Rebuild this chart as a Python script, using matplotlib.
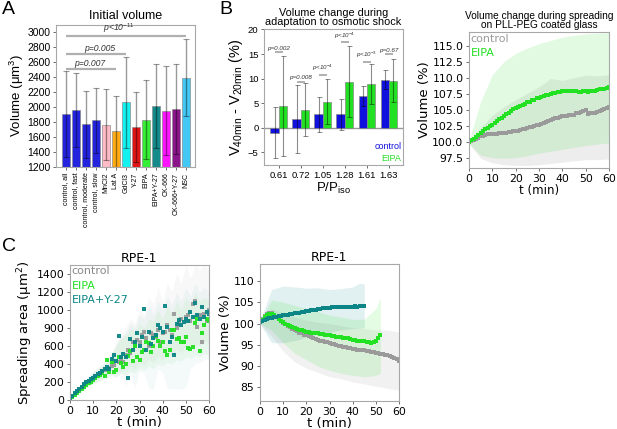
import numpy as np
import matplotlib
matplotlib.use("Agg")
import matplotlib.pyplot as plt

plt.rcParams["mathtext.rm"] = "Liberation Sans"
plt.rcParams["mathtext.it"] = "Liberation Sans:italic"
plt.rcParams["mathtext.bf"] = "Liberation Sans:bold"

# ---------------- DATA ----------------
# Panel A
a_labels = ["control, all", "control, fast", "control, moderate", "control, slow", "MnCl2", "Lat A",
            "GdCl3", "Y-27", "EIPA", "EIPA+Y-27", "CK-666", "CK-666+Y-27", "NSC"]
a_values = [1906, 1959, 1772, 1825, 1768, 1678, 2066, 1736, 1835, 2017, 1955, 1977, 2397]
a_errors = [575, 496, 451, 433, 472, 473, 607, 474, 526, 558, 593, 598, 513]
a_colors = ["#1111dd", "#1111dd", "#1111dd", "#1111dd", "#ffb6c1", "#ffa500", "#00f0f0", "#dd0000",
            "#22ee22", "#008080", "#ff00ff", "#800080", "#33c4f5"]
a_sig_pairs = [(0, 12), (0, 6), (0, 5)]
a_sig_y = [2950, 2718, 2517]
a_sig_text = ["p<10$^{\\mathrm{-11}}$", "p=0.005", "p=0.007"]
a_sig_textx = [5.3, 3.4, 2.4]

# Panel B
b_labels = ["0.61", "0.72", "1.05", "1.28", "1.61", "1.63"]
b_control = [-1.0, 1.8, 2.7, 2.7, 6.4, 9.8]
b_control_err = [5.2, 6.9, 3.5, 3.1, 2.0, 2.0]
b_eipa = [4.4, 3.7, 5.3, 9.4, 8.9, 9.6]
b_eipa_err = [10.2, 5.4, 4.6, 7.3, 4.0, 4.3]
b_sig_y = [15.4, 9.4, 10.8, 17.4, 13.4, 15.0]
b_sig_text = ["p=0.002", "p=0.008", "p<10$^{\\mathrm{-4}}$", "p<10$^{\\mathrm{-4}}$", "p<10$^{\\mathrm{-3}}$",
              "p=0.67"]

# Panel PLL-PEG volume
pll_t = list(range(61))
pll_control = [100.0, 100.2, 100.4, 100.5, 100.7, 100.9, 101.0, 101.1, 101.2, 101.2, 101.3, 101.3, 101.3,
               101.4, 101.4, 101.5, 101.5, 101.6, 101.6, 101.7, 101.8, 101.8, 101.9, 102.0, 102.1, 102.2,
               102.3, 102.4, 102.5, 102.6, 102.7, 102.9, 103.0, 103.2, 103.3, 103.5, 103.6, 103.7, 103.8,
               103.9, 104.0, 104.1, 104.1, 104.2, 104.3, 104.3, 104.5, 104.6, 104.7, 104.8, 105.0, 104.4,
               104.5, 104.6, 104.6, 104.7, 104.8, 105.0, 105.1, 105.3, 105.4]
pll_eipa = [100.1, 100.3, 100.5, 100.8, 101.1, 101.4, 101.7, 102.0, 102.2, 102.5, 102.7, 103.0, 103.3,
            103.6, 103.8, 104.1, 104.4, 104.6, 104.8, 105.1, 105.3, 105.5, 105.6, 105.8, 106.0, 106.2,
            106.3, 106.5, 106.6, 106.8, 106.9, 107.0, 107.2, 107.3, 107.4, 107.5, 107.6, 107.7, 107.8,
            107.8, 107.9, 107.9, 108.0, 108.0, 108.0, 107.9, 107.9, 107.8, 107.8, 107.9, 107.9, 107.8,
            107.9, 108.0, 108.0, 108.1, 108.2, 108.3, 108.3, 108.4, 108.5]
pll_band_t = [0, 5, 10, 15, 20, 25, 30, 35, 40, 45, 50, 55, 60]
pll_eipa_hi = [100.2, 106.3, 110.5, 112.5, 113.8, 114.6, 115.3, 115.8, 116.3, 116.6, 116.8, 116.9, 117.0]
pll_eipa_lo = [99.8, 98.0, 97.6, 97.5, 97.6, 97.9, 98.3, 98.6, 98.9, 99.2, 99.5, 99.7, 99.9]
pll_ctrl_hi = [100.2, 102.3, 104.2, 105.5, 106.6, 107.6, 108.6, 109.9, 109.6, 110.0, 110.4, 110.3, 110.5]
pll_ctrl_lo = [99.8, 97.5, 96.8, 96.5, 96.4, 96.4, 96.5, 96.7, 96.9, 97.1, 97.3, 97.3, 97.4]

# Panel C left: spreading area
c_t = list(range(61))
c_area_control = [15, 40, 65, 90, 115, 140, 160, 185, 205, 220, 240, 260, 280, 300, 320, 330, 350, 360, 380,
                  390, 430, 420, 460, 420, 500, 560, 520, 650, 600, 670, 640, 720, 760, 690, 600, 750, 720,
                  700, 780, 640, 740, 760, 830, 780, 720, 960, 800, 860, 900, 650, 920, 940, 880, 1070, 1100,
                  810, 940, 640, 960, 880, 1000]
c_area_eipa = [10, 35, 55, 80, 105, 125, 150, 170, 190, 205, 225, 245, 265, 280, 300, 270, 440, 310, 420,
               310, 330, 480, 415, 370, 400, 490, 550, 430, 600, 480, 440, 530, 560, 650, 630, 530, 600, 710,
               660, 600, 640, 550, 500, 560, 780, 780, 680, 690, 640, 650, 700, 580, 570, 590, 860, 900, 540,
               740, 830, 900, 880]
c_area_eipay = [20, 50, 75, 100, 125, 150, 175, 195, 215, 235, 250, 270, 290, 300, 320, 340, 370, 340, 460,
                500, 430, 710, 480, 515, 480, 250, 680, 560, 650, 740, 600, 700, 1010, 560, 760, 620, 690,
                720, 830, 800, 760, 1040, 810, 650, 700, 500, 850, 890, 830, 870, 900, 880, 980, 920, 1080,
                950, 900, 1030, 920, 980, 960]
c_band_t = list(range(0, 61, 2))
c_ctrl_hi = [20, 90, 150, 210, 260, 310, 350, 390, 430, 520, 620, 720, 800, 900, 850, 1000, 950, 1150, 1050,
             1250, 1100, 1300, 1200, 1400, 1300, 1500, 1350, 1500, 1450, 1500, 1450]
c_ctrl_lo = [0, 40, 90, 120, 160, 190, 220, 250, 280, 300, 280, 320, 330, 380, 350, 420, 380, 450, 420, 480,
             450, 520, 500, 560, 520, 600, 560, 620, 600, 650, 640]
c_eipa_hi = [15, 80, 140, 200, 250, 300, 340, 380, 420, 500, 600, 680, 720, 800, 760, 850, 800, 900, 880,
             1000, 900, 1050, 950, 1100, 1000, 1150, 1050, 1200, 1100, 1150, 1100]
c_eipa_lo = [0, 30, 80, 110, 150, 180, 210, 240, 260, 280, 260, 300, 280, 320, 300, 360, 330, 380, 350, 400,
             380, 420, 400, 450, 430, 480, 460, 500, 480, 520, 500]
c_eipay_hi = [20, 100, 160, 220, 270, 320, 360, 400, 450, 520, 650, 700, 750, 850, 800, 950, 900, 1050, 950,
              1100, 1000, 1150, 1050, 1200, 1100, 1250, 1150, 1300, 1200, 1250, 1200]
c_eipay_lo = [0, 40, 80, 120, 150, 180, 200, 220, 240, 260, 250, 300, 150, 300, 130, 320, 300, 130, 120, 350,
              300, 120, 130, 130, 120, 140, 350, 400, 420, 450, 450]
c_ticks = [0, 200, 400, 600, 800, 1000, 1200, 1400]
c_ticklabels = ["0", "200", "400", "600", "900", "1000", "1200", "1400"]

# Panel C right: volume
v_t_ctrl = list(range(61))
v_control = [100.3, 101.0, 101.7, 102.2, 102.5, 102.4, 102.0, 101.5, 101.0, 100.5, 100.1, 99.8, 99.4, 99.1,
             98.8, 98.5, 98.2, 97.9, 97.7, 97.4, 97.2, 97.0, 96.8, 96.6, 96.4, 96.2, 96.0, 95.9, 95.7, 95.6,
             95.4, 95.3, 95.1, 95.0, 94.8, 94.7, 94.6, 94.4, 94.3, 94.2, 94.0, 94.0, 93.9, 93.8, 93.7, 93.7,
             93.6, 93.5, 93.3, 93.2, 93.1, 93.0, 92.9, 92.8, 92.7, 92.6, 92.4, 92.2, 91.9, 91.6, 91.3]
v_t_eipa = list(range(53))
v_eipa = [100.3, 100.9, 101.6, 102.0, 102.3, 102.2, 101.9, 101.5, 101.1, 100.7, 100.3, 100.0, 99.7, 99.4,
          99.2, 99.0, 98.8, 98.6, 98.4, 98.2, 98.1, 98.0, 97.9, 97.8, 97.8, 97.7, 97.6, 97.5, 97.4, 97.3,
          97.2, 97.1, 97.0, 96.9, 96.9, 96.8, 96.7, 96.6, 96.5, 96.4, 96.2, 96.1, 96.0, 96.0, 95.9, 95.9,
          95.7, 95.6, 95.5, 95.7, 96.0, 96.6, 97.2]
v_t_eipay = list(range(46))
v_eipay = [100.3, 100.5, 100.8, 101.0, 101.2, 101.3, 101.5, 101.6, 101.7, 101.8, 101.9, 102.0, 102.1, 102.2,
           102.3, 102.4, 102.5, 102.6, 102.7, 102.8, 102.9, 103.0, 103.1, 103.2, 103.3, 103.4, 103.5, 103.6,
           103.6, 103.7, 103.7, 103.8, 103.9, 103.9, 104.0, 103.9, 103.9, 104.0, 104.0, 104.0, 104.0, 104.1,
           104.0, 104.1, 104.2, 104.2]
vb_t_ctrl = [0, 5, 10, 15, 20, 25, 30, 35, 40, 45, 50, 55, 60]
vb_ctrl_hi = [100.5, 103.5, 102.5, 101.5, 100.8, 100.3, 100.0, 99.5, 99.0, 98.8, 98.5, 98.5, 98.0]
vb_ctrl_lo = [100.0, 97.0, 93.5, 91.0, 89.5, 88.5, 87.5, 87.0, 86.3, 85.8, 85.3, 84.8, 84.3]
vb_t_eipa = [0, 5, 10, 15, 20, 25, 30, 35, 40, 45, 50, 52]
vb_eipa_hi = [100.5, 105.5, 105.0, 104.3, 103.5, 102.8, 102.0, 101.5, 101.0, 101.0, 103.5, 106.0]
vb_eipa_lo = [100.0, 98.5, 95.5, 93.0, 91.5, 90.0, 89.0, 88.3, 87.8, 87.5, 87.8, 88.3]
vb_t_eipay = [0, 5, 10, 15, 20, 25, 30, 35, 40, 43, 45]
vb_eipay_hi = [100.5, 108.0, 108.8, 108.6, 108.3, 108.4, 108.0, 108.2, 108.6, 109.5, 109.3]
vb_eipay_lo = [100.0, 95.5, 95.5, 96.0, 96.8, 97.5, 98.0, 98.5, 98.8, 98.9, 99.0]

# ---------------- STYLE ----------------
GREY = "#9a9a9a"
GREEN = "#22e022"
TEAL = "#0b8585"
BLUE = "#1111dd"
SPINE = "#a8a8a8"
ARIAL = "Liberation Sans"

W, H = 617, 429
fig = plt.figure(figsize=(W / 100, H / 100), dpi=100)


def ax_px(l, t, r, b):
    return fig.add_axes([l / W, 1 - b / H, (r - l) / W, (b - t) / H])


def style_spines(ax):
    for s in ax.spines.values():
        s.set_color(SPINE)
        s.set_linewidth(0.8)
    ax.tick_params(color="#555555", width=0.6, length=2.5, pad=1.5)


# ---------------- Panel A ----------------
axA = ax_px(56, 25, 195, 167)
xa = np.arange(len(a_values))
axA.bar(xa, np.array(a_values) - 1200, bottom=1200, width=0.8, color=a_colors, alpha=0.92,
        edgecolor="#888888", linewidth=0.5)
axA.errorbar(xa, a_values, yerr=a_errors, fmt="none", ecolor="k", alpha=0.4, elinewidth=1.0, capsize=2,
             capthick=0.8)
for (i0, i1), yy, txt, tx in zip(a_sig_pairs, a_sig_y, a_sig_text, a_sig_textx):
    axA.plot([i0, i1], [yy, yy], color="#b0b0b0", lw=1.6, solid_capstyle="butt")
    axA.text(tx, yy + 12, txt, ha="center", va="bottom", fontsize=6.2, style="italic", family=ARIAL,
             color="#333333", math_fontfamily="custom")
axA.set_xlim(-0.95, 12.9)
axA.set_ylim(1200, 3100)
axA.set_yticks(range(1200, 3001, 200))
axA.set_xticks(xa)
axA.set_xticklabels(a_labels, rotation=90, fontsize=5, family=ARIAL)
for lab in axA.get_yticklabels():
    lab.set_fontsize(7.5)
    lab.set_family(ARIAL)
axA.set_ylabel("Volume (μm$^{\\mathrm{3}}$)", fontsize=9.5, family=ARIAL, labelpad=1,
               math_fontfamily="custom")
axA.set_title("Initial volume", fontsize=9, family=ARIAL, pad=4)
style_spines(axA)

# ---------------- Panel B ----------------
axB = ax_px(264, 29, 403, 165)
xb = np.arange(len(b_labels))
bw = 0.38
axB.axhline(0, color="#999999", lw=1.0, zorder=0)
axB.bar(xb - bw / 2, b_control, width=bw, color=BLUE, edgecolor="#888888", linewidth=0.5)
axB.bar(xb + bw / 2, b_eipa, width=bw, color=GREEN, edgecolor="#888888", linewidth=0.5)
axB.errorbar(xb - bw / 2, b_control, yerr=b_control_err, fmt="none", ecolor="k", alpha=0.45,
             elinewidth=0.8, capsize=1.8, capthick=0.7)
axB.errorbar(xb + bw / 2, b_eipa, yerr=b_eipa_err, fmt="none", ecolor="k", alpha=0.45,
             elinewidth=0.8, capsize=1.8, capthick=0.7)
for i, (yy, txt) in enumerate(zip(b_sig_y, b_sig_text)):
    axB.plot([i - bw / 2, i + bw / 2], [yy, yy], color="#b0b0b0", lw=1.4, solid_capstyle="butt")
    axB.text(i, yy + 0.3, txt, ha="center", va="bottom", fontsize=4.5, style="italic", family=ARIAL,
             color="#333333", math_fontfamily="custom")
axB.set_xlim(-0.67, 5.64)
axB.set_ylim(-7.6, 20.1)
axB.set_yticks([-5, 0, 5, 10, 15, 20])
axB.set_xticks(xb)
axB.set_xticklabels(b_labels, fontsize=6.8, family=ARIAL)
for lab in axB.get_yticklabels():
    lab.set_fontsize(6.8)
    lab.set_family(ARIAL)
axB.set_ylabel("V$_{\\mathrm{40min}}$ - V$_{\\mathrm{20min}}$ (%)", fontsize=10.5, family=ARIAL, labelpad=2,
               math_fontfamily="custom")
axB.set_xlabel("P/P$_{\\mathrm{iso}}$", fontsize=9.5, family=ARIAL, labelpad=1, math_fontfamily="custom")
axB.set_title("Volume change during\nadaptation to osmotic shock", fontsize=7.8, family=ARIAL,
              linespacing=0.9, pad=3)
axB.text(0.99, 0.10, "control", transform=axB.transAxes, color=BLUE, fontsize=6.5, family=ARIAL,
         ha="right", va="bottom")
axB.text(0.99, 0.015, "EIPA", transform=axB.transAxes, color=GREEN, fontsize=6.5, family=ARIAL,
         ha="right", va="bottom")
style_spines(axB)

# ---------------- Panel PLL-PEG ----------------
axP = ax_px(469, 32, 609, 168)
axP.fill_between(pll_band_t, pll_ctrl_lo, pll_ctrl_hi, color="#bbbbbb", alpha=0.25, lw=0)
axP.fill_between(pll_band_t, pll_eipa_lo, pll_eipa_hi, color=GREEN, alpha=0.13, lw=0)
axP.plot(pll_t, pll_control, "s", color=GREY, ms=2.6, mew=0)
axP.plot(pll_t, pll_eipa, "s", color=GREEN, ms=3.0, mew=0)
axP.set_xlim(0, 60)
axP.set_ylim(96.0, 117.1)
axP.set_yticks(np.arange(97.5, 115.1, 2.5))
axP.set_yticklabels([f"{v:.1f}" for v in np.arange(97.5, 115.1, 2.5)])
axP.set_xticks(range(0, 61, 10))
axP.tick_params(labelsize=7.8)
axP.set_ylabel("Volume (%)", fontsize=9.5, labelpad=1)
axP.set_xlabel("t (min)", fontsize=8.5, labelpad=0)
axP.set_title("Volume change during spreading\non PLL-PEG coated glass", fontsize=7.3, family=ARIAL,
              linespacing=0.9, pad=3)
axP.text(0.01, 0.985, "control", transform=axP.transAxes, color=GREY, fontsize=8, va="top")
axP.text(0.01, 0.885, "EIPA", transform=axP.transAxes, color=GREEN, fontsize=8, va="top")
style_spines(axP)

# ---------------- Panel C left ----------------
axC = ax_px(70, 265, 209, 400)
axC.fill_between(c_band_t, c_ctrl_lo, c_ctrl_hi, color="#bbbbbb", alpha=0.10, lw=0)
axC.fill_between(c_band_t, c_eipa_lo, c_eipa_hi, color=GREEN, alpha=0.06, lw=0)
axC.fill_between(c_band_t, c_eipay_lo, c_eipay_hi, color=TEAL, alpha=0.045, lw=0)
axC.plot(c_t, c_area_control, "s", color=GREY, ms=3.3, mew=0, alpha=0.95)
axC.plot(c_t, c_area_eipa, "s", color=GREEN, ms=3.3, mew=0, alpha=0.95)
axC.plot(c_t, c_area_eipay, "s", color=TEAL, ms=3.3, mew=0, alpha=0.95)
axC.set_xlim(0, 60)
axC.set_ylim(0, 1500)
axC.set_yticks(c_ticks)
axC.set_yticklabels(c_ticklabels)
axC.set_xticks(range(0, 61, 10))
axC.tick_params(labelsize=7.8)
axC.set_ylabel("Spreading area (μm$^2$)", fontsize=9.5, labelpad=1)
axC.set_xlabel("t (min)", fontsize=9.5, labelpad=0)
axC.set_title("RPE-1", fontsize=9, pad=2)
axC.text(0.01, 0.99, "control", transform=axC.transAxes, color="#888888", fontsize=8, va="top")
axC.text(0.01, 0.885, "EIPA", transform=axC.transAxes, color=GREEN, fontsize=8, va="top")
axC.text(0.01, 0.78, "EIPA+Y-27", transform=axC.transAxes, color=TEAL, fontsize=8, va="top")
style_spines(axC)

# ---------------- Panel C right ----------------
axV = ax_px(260, 264, 399, 401)
axV.fill_between(vb_t_ctrl, vb_ctrl_lo, vb_ctrl_hi, color="#bbbbbb", alpha=0.2, lw=0)
axV.fill_between(vb_t_eipay, vb_eipay_lo, vb_eipay_hi, color=TEAL, alpha=0.12, lw=0)
axV.fill_between(vb_t_eipa, vb_eipa_lo, vb_eipa_hi, color=GREEN, alpha=0.12, lw=0)
axV.plot(v_t_ctrl, v_control, "s", color=GREY, ms=3.0, mew=0)
axV.plot(v_t_eipa, v_eipa, "s", color=GREEN, ms=3.2, mew=0)
axV.plot(v_t_eipay, v_eipay, "s", color=TEAL, ms=3.2, mew=0)
axV.set_xlim(0, 60)
axV.set_ylim(81.8, 114)
axV.set_yticks([85, 90, 95, 100, 105, 110])
axV.set_xticks(range(0, 61, 10))
axV.tick_params(labelsize=7.8)
axV.set_ylabel("Volume (%)", fontsize=9.5, labelpad=1)
axV.set_xlabel("t (min)", fontsize=9.5, labelpad=0)
axV.set_title("RPE-1", fontsize=9, pad=2)
style_spines(axV)

# Panel letters
fig.text(2 / W, 1 - 1 / H, "A", fontsize=14, family=ARIAL, va="top", ha="left")
fig.text(219 / W, 1 - 1 / H, "B", fontsize=14, family=ARIAL, va="top", ha="left")
fig.text(2 / W, 1 - 238 / H, "C", fontsize=14, family=ARIAL, va="top", ha="left")

fig.savefig("out.png", dpi=100)
